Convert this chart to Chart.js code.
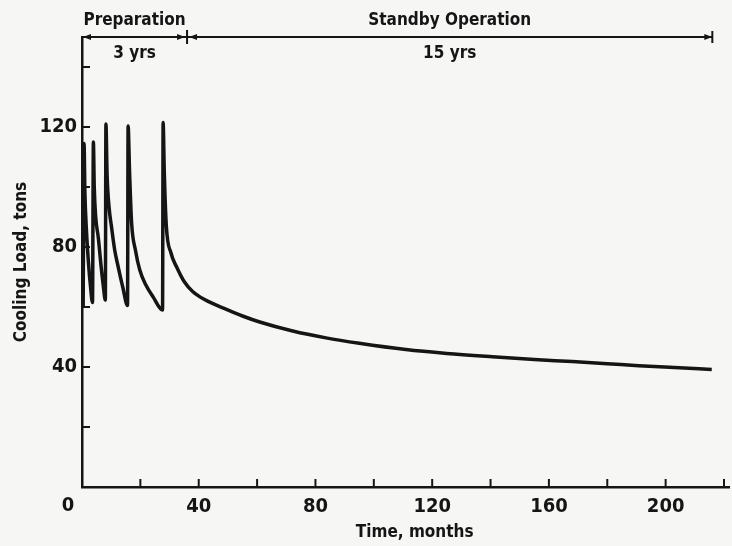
<!DOCTYPE html>
<html>
<head>
<meta charset="utf-8">
<script src="https://cdn.jsdelivr.net/npm/chart.js@4/dist/chart.umd.min.js"></script>
<style>
  html, body { margin: 0; background: #f6f6f4; }
  #wrap { width: 732px; height: 546px; }
</style>
</head>
<body>
<div id="wrap"><canvas id="chart"></canvas></div>
<script>
// Time in months, cooling load in tons
const months = [
  0.4, 0.7, 1.0, 1.5, 2.2, 2.9, 3.6,
  3.9, 4.2, 4.7, 5.6, 6.5, 7.3, 8.0,
  8.2, 8.6, 9.3, 10.1, 11.2, 12.4, 14.0, 15.6,
  15.8, 16.3, 17.0, 18.3, 19.8, 21.8, 24.4, 27.6,
  27.8, 28.2, 28.9, 30.5, 32.4, 35, 38, 42, 49.5, 55, 60.9, 72.2, 83.6,
  95, 111, 125, 140.6, 155, 168, 180, 190.8, 203, 215.8
];
const coolingLoad = [
  60, 114.5, 98, 86, 75, 67, 61.5,
  115, 100, 90, 83, 74, 67, 62.3,
  121, 104, 93, 86.8, 79, 73.4, 66.5, 60.5,
  120.3, 105, 88, 79, 72.3, 67.5, 63.3, 59,
  121.5, 105, 87, 78, 73.4, 68.5, 65.1, 62.5, 59.2, 57, 55, 52, 49.7,
  47.9, 45.8, 44.5, 43.4, 42.5, 41.8, 41.1, 40.4, 39.8, 39.2
];

const xTicks = [0, 20, 40, 60, 80, 100, 120, 140, 160, 180, 200, 220];
const yTicks = [0, 20, 40, 60, 80, 100, 120, 140];

// Phase bar along the top: boundaries in months, names and durations
const phaseBounds = [0, 36, 216];
const phaseNames = ['Preparation', 'Standby Operation'];
const phaseSpans = ['3 yrs', '15 yrs'];

const xMax = 222;
const yMax = 150;

const ink = '#151515';
const family = "'DejaVu Sans Condensed', 'DejaVu Sans', sans-serif";

const labelEvery40 = v => (v !== 0 && v % 40 === 0) ? String(v) : '';

const overlay = {
  id: 'overlay',
  afterDraw(chart) {
    const { ctx, scales: { x, y } } = chart;
    const line = (x1, y1, x2, y2) => {
      ctx.beginPath(); ctx.moveTo(x1, y1); ctx.lineTo(x2, y2); ctx.stroke();
    };
    const arrow = (tipX, tipY, dir) => {
      ctx.beginPath();
      ctx.moveTo(tipX, tipY);
      ctx.lineTo(tipX - dir * 8, tipY - 3);
      ctx.lineTo(tipX - dir * 8, tipY + 3);
      ctx.closePath();
      ctx.fill();
    };
    ctx.save();
    ctx.strokeStyle = ink;
    ctx.fillStyle = ink;
    ctx.lineWidth = 2;

    // inward tick marks
    x.ticks.forEach(t => {
      if (t.value === 0) return;
      const px = x.getPixelForValue(t.value);
      line(px, y.bottom, px, y.bottom - 8);
    });
    y.ticks.forEach(t => {
      if (t.value === 0) return;
      const py = y.getPixelForValue(t.value);
      line(x.left, py, x.left + 8, py);
    });

    // shared origin label
    ctx.font = 'bold 20px ' + family;
    ctx.textAlign = 'center';
    ctx.textBaseline = 'middle';
    ctx.fillText('0', x.left - 14, y.bottom + 19);

    // phase bar
    const barY = y.getPixelForValue(yMax);
    const bx = phaseBounds.map(v => x.getPixelForValue(v));
    line(bx[0], barY, bx[2], barY);
    arrow(bx[0] + 1, barY, -1);
    arrow(bx[1] - 2, barY, 1);
    arrow(bx[1] + 2, barY, -1);
    arrow(bx[2], barY, 1);
    line(bx[1], barY - 7, bx[1], barY + 7);
    line(bx[2], barY - 6, bx[2], barY + 6);

    ctx.font = 'bold 17px ' + family;
    phaseNames.forEach((name, i) => {
      const cx = (bx[i] + bx[i + 1]) / 2;
      ctx.fillText(name, cx, barY - 16);
      ctx.fillText(phaseSpans[i], cx, barY + 17);
    });

    // axis titles
    ctx.fillText('Time, months', x.getPixelForValue(114), y.bottom + 46);
    ctx.translate(22, (y.top + y.bottom) / 2);
    ctx.rotate(-Math.PI / 2);
    ctx.fillText('Cooling Load, tons', 0, 0);
    ctx.restore();
  }
};

new Chart(document.getElementById('chart'), {
  type: 'scatter',
  data: {
    datasets: [{
      data: months.map((m, i) => ({ x: m, y: coolingLoad[i] })),
      showLine: true,
      borderColor: ink,
      borderWidth: 3.5,
      pointRadius: 0,
      cubicInterpolationMode: 'monotone'
    }]
  },
  options: {
    responsive: true,
    maintainAspectRatio: false,
    animation: false,
    devicePixelRatio: 1,
    layout: { padding: { top: 37, right: 0, left: 0, bottom: 0 } },
    plugins: { legend: { display: false }, tooltip: { enabled: false } },
    scales: {
      x: {
        type: 'linear',
        min: 0,
        max: xMax,
        afterBuildTicks: s => { s.ticks = xTicks.map(v => ({ value: v })); },
        afterFit: s => { s.height = 59; },
        grid: { display: false, drawTicks: false },
        border: { color: ink, width: 2.5 },
        ticks: {
          callback: labelEvery40,
          color: ink,
          padding: 8,
          maxRotation: 0,
          autoSkip: false,
          font: { family: family, size: 20, weight: 'bold' }
        }
      },
      y: {
        min: 0,
        max: yMax,
        afterBuildTicks: s => { s.ticks = yTicks.map(v => ({ value: v })); },
        afterFit: s => { s.width = 82; },
        grid: { display: false, drawTicks: false },
        border: { color: ink, width: 2.5 },
        ticks: {
          callback: labelEvery40,
          color: ink,
          padding: 5,
          autoSkip: false,
          font: { family: family, size: 20, weight: 'bold' }
        }
      }
    }
  },
  plugins: [overlay]
});
</script>
</body>
</html>
